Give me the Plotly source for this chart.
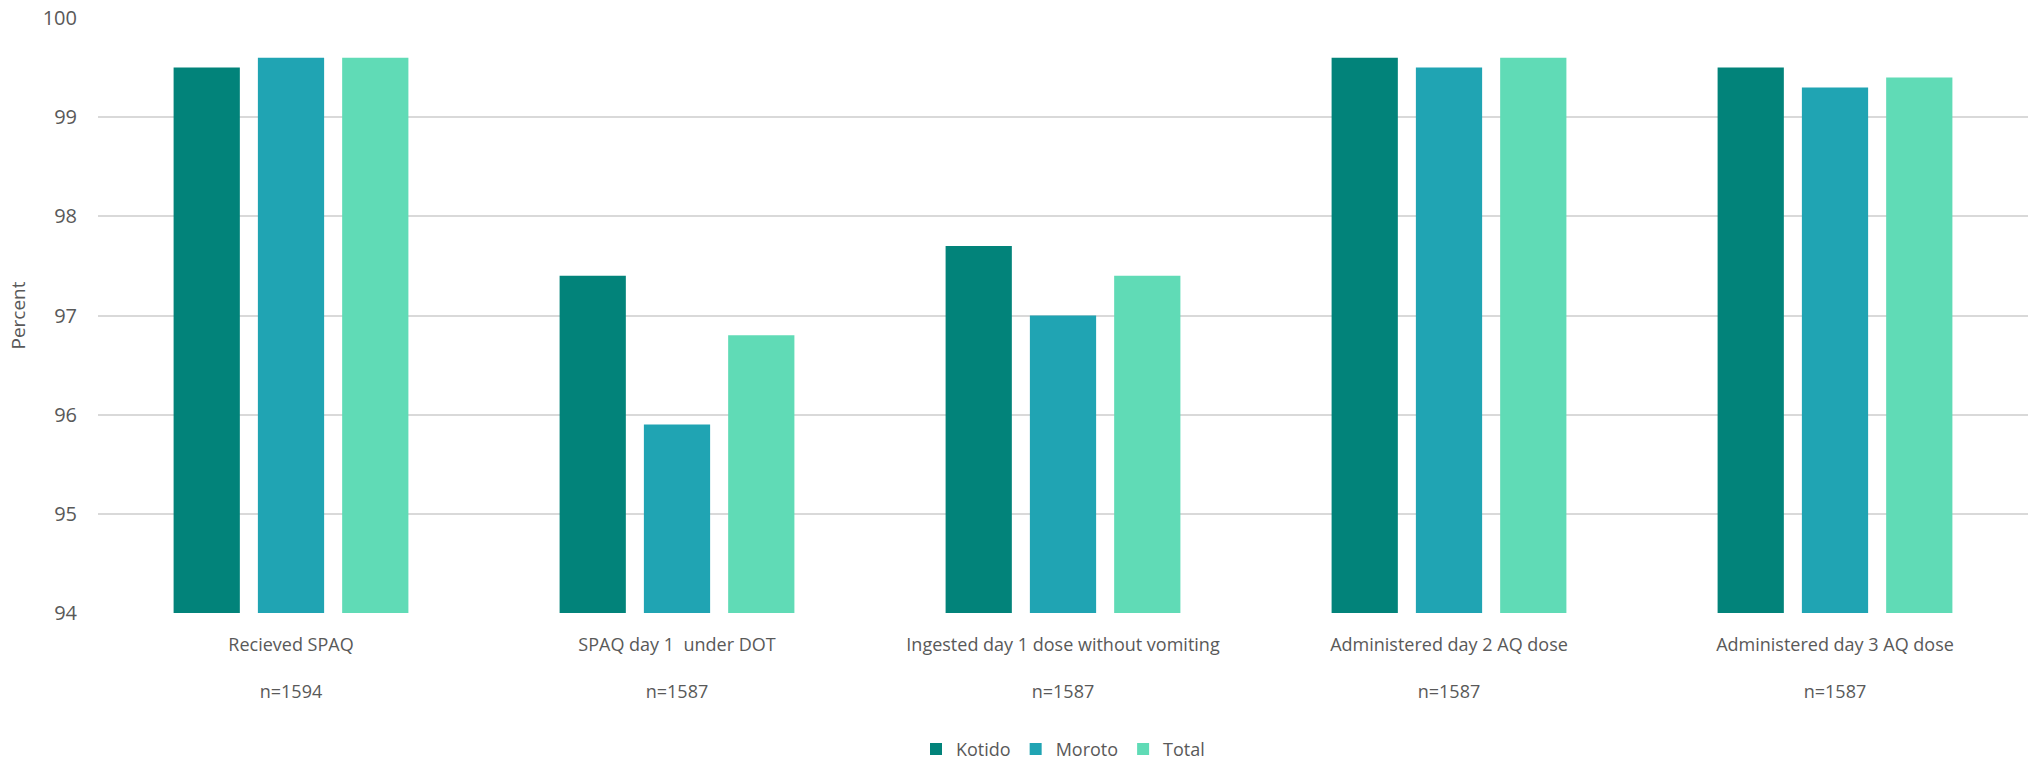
import plotly.graph_objects as go

categories = ["Recieved SPAQ", "SPAQ day 1\u00a0 under DOT", "Ingested day 1 dose without vomiting",
              "Administered day 2 AQ dose", "Administered day 3 AQ dose"]
n_labels = ["n=1594", "n=1587", "n=1587", "n=1587", "n=1587"]
kotido = [99.5, 97.4, 97.7, 99.6, 99.5]
moroto = [99.6, 95.9, 97.0, 99.5, 99.3]
total = [99.6, 96.8, 97.4, 99.6, 99.4]
y_ticks = [94, 95, 96, 97, 98, 99, 100]

series = [("Kotido", kotido, "#02837A"), ("Moroto", moroto, "#20A4B3"), ("Total", total, "#60DBB6")]

fig = go.Figure()
for name, vals, col in series:
    fig.add_trace(go.Bar(x=list(range(len(categories))), y=vals, name=name,
                         marker=dict(color=col, line=dict(width=0))))

ticktext = [f"{c}<br><br>{n}" for c, n in zip(categories, n_labels)]
font = "Open Sans"
fig.update_layout(
    width=2028, height=762,
    margin=dict(l=98, r=0, t=18, b=149, autoexpand=False),
    plot_bgcolor="white", paper_bgcolor="white",
    barmode="group", bargap=0.345, bargroupgap=0.214,
    font=dict(family=font, size=18, color="#595959"),
    xaxis=dict(tickvals=list(range(len(categories))), ticktext=ticktext,
               range=[-0.5, 4.5], showgrid=False, zeroline=False, automargin=False,
               showline=False, ticks="", ticklabelstandoff=19,
               tickfont=dict(size=18, color="#595959")),
    yaxis=dict(range=[94, 100], tickvals=y_ticks, showgrid=True, gridcolor="#D9D9D9",
               gridwidth=2, zeroline=False, showline=False, ticks="", ticklabelstandoff=20,
               automargin=False,
               tickfont=dict(size=20, color="#595959"),
               title=dict(text="Percent", font=dict(size=19, color="#595959"), standoff=12)),
    legend=dict(orientation="h", x=0.5, xanchor="center", y=-0.229, yanchor="middle",
                font=dict(size=18, color="#595959"), itemwidth=30, traceorder="normal"),
)
fig.write_html("out.html")
